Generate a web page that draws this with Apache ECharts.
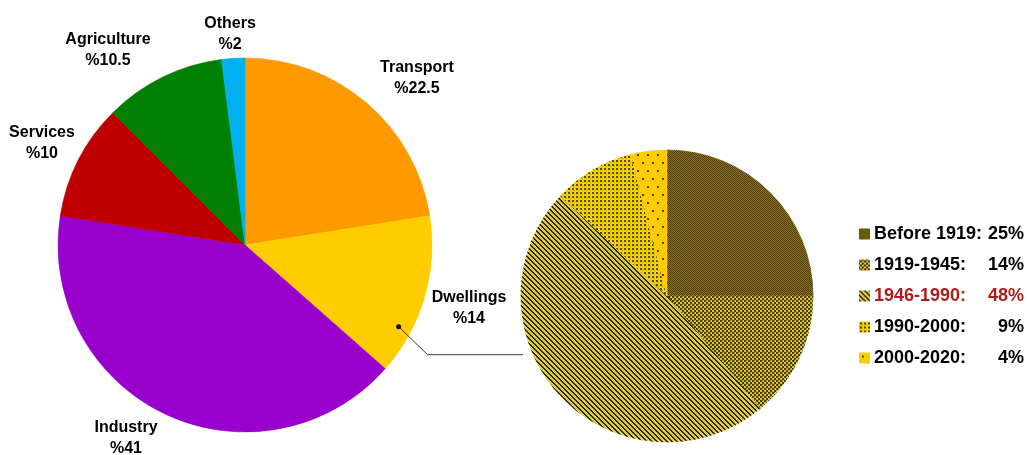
<!DOCTYPE html>
<html>
<head>
<meta charset="utf-8">
<script src="https://cdn.jsdelivr.net/npm/echarts@6/dist/echarts.min.js"></script>
<style>
  html, body { margin: 0; padding: 0; background: #fff; }
  #chart { width: 1027px; height: 455px; }
</style>
</head>
<body>
<div id="chart"></div>
<script>
// Energy consumption by sector (%)
const sectorNames = ['Transport', 'Dwellings', 'Industry', 'Services', 'Agriculture', 'Others'];
const sectorValues = [22.5, 14, 41, 10, 10.5, 2];
const sectorColors = ['#ff9900', '#ffcc00', '#9900cc', '#c00000', '#008000', '#00b0f0'];

// Dwellings split by construction period (%)
const periodNames = ['Before 1919', '1919-1945', '1946-1990', '1990-2000', '2000-2020'];
const periodValues = [25, 14, 48, 9, 4];
const highlightPeriod = '1946-1990';

// ---- layout ----
const mainCenter = [245, 245];
const mainRadius = 187;
const subCenter = [667, 296];
const subRadius = 146;
const FONT = '"Liberation Sans", Arial, sans-serif';

// label block centres, relative to the main pie centre
const labelOffsets = {
  'Transport':   [172, -167],
  'Dwellings':   [224, 63],
  'Industry':    [-119, 193],
  'Services':    [-203, -102],
  'Agriculture': [-137, -195],
  'Others':      [-15, -211]
};

// ---- fill patterns for the breakdown pie ----
function makePattern(w, h, bg, paint) {
  const c = document.createElement('canvas');
  c.width = w; c.height = h;
  const g = c.getContext('2d');
  g.fillStyle = bg; g.fillRect(0, 0, w, h);
  paint(g);
  return { image: c, repeat: 'repeat' };
}
const patterns = [
  // fine dark checker
  makePattern(2, 2, '#8a7408', g => { g.fillStyle = '#4e3f00'; g.fillRect(0, 0, 1, 1); g.fillRect(1, 1, 1, 1); }),
  // coarse checker
  makePattern(4, 4, '#d9c53a', g => { g.fillStyle = '#4a3c00'; g.fillRect(0, 0, 2, 2); g.fillRect(2, 2, 2, 2); g.fillStyle = '#9c8a20'; g.fillRect(2, 0, 1, 1); }),
  // diagonal stripes
  makePattern(5, 5, '#dccd42', g => {
    g.fillStyle = '#2e2600';
    for (let y = 0; y < 5; y++) for (let x = 0; x < 5; x++) {
      if (((x - y) % 5 + 5) % 5 < 2) g.fillRect(x, y, 1, 1);
    }
  }),
  // dense dots on yellow
  makePattern(4, 4, '#f2d400', g => { g.fillStyle = '#5a4600'; g.fillRect(0, 0, 2, 2); g.fillStyle = '#b89c00'; g.fillRect(2, 2, 1, 1); }),
  // sparse dots on yellow
  makePattern(10, 16, '#ffcc00', g => { g.fillStyle = '#5a3c00'; g.fillRect(2, 2, 2, 2); g.fillRect(7, 10, 2, 2); })
];

// connector from the Dwellings slice to the breakdown pie
const anchorAngle = 118 * Math.PI / 180;
const anchorRadius = 174;
const anchor = [mainCenter[0] + anchorRadius * Math.sin(anchorAngle),
                mainCenter[1] - anchorRadius * Math.cos(anchorAngle)];
const elbow = [anchor[0] + 29, anchor[1] + 28];
const lineEnd = [subCenter[0] - subRadius + 2, elbow[1]];

const chart = echarts.init(document.getElementById('chart'), null, { renderer: 'canvas' });

const legendRich = (color, width, align) => ({
  width: width, align: align, fontFamily: FONT, fontSize: 18, fontWeight: 'bold', color: color, lineHeight: 20
});

chart.setOption({
  animation: false,
  backgroundColor: '#fff',
  legend: {
    data: periodNames,
    orient: 'vertical',
    left: 859,
    top: 225,
    padding: 0,
    icon: 'rect',
    itemWidth: 9,
    itemHeight: 9,
    itemGap: 13,
    selectedMode: false,
    formatter: name => {
      const v = periodValues[periodNames.indexOf(name)];
      const hi = name === highlightPeriod;
      return '{' + (hi ? 'nr' : 'n') + '|' + name + ':}{' + (hi ? 'vr' : 'v') + '|' + v + '%}';
    },
    textStyle: {
      fontFamily: FONT, fontSize: 18, fontWeight: 'bold', color: '#000',
      rich: {
        n:  legendRich('#000', 113, 'left'),
        v:  legendRich('#000', 37, 'right'),
        nr: legendRich('#b01c1c', 113, 'left'),
        vr: legendRich('#b01c1c', 37, 'right')
      }
    }
  },
  graphic: [
    {
      type: 'polyline',
      z: 10,
      shape: { points: [anchor, elbow, lineEnd] },
      style: { stroke: '#3a3a3a', lineWidth: 1, fill: null }
    },
    {
      type: 'circle',
      z: 11,
      shape: { cx: anchor[0], cy: anchor[1], r: 2.5 },
      style: { fill: '#111' }
    }
  ],
  series: [
    {
      name: 'Sectors',
      type: 'pie',
      center: mainCenter,
      radius: mainRadius,
      startAngle: 90,
      clockwise: true,
      silent: true,
      data: sectorNames.map((n, i) => ({
        name: n, value: sectorValues[i],
        itemStyle: { color: sectorColors[i], borderColor: sectorColors[i], borderWidth: 0.6 }
      })),
      label: {
        show: true,
        position: 'outside',
        formatter: p => p.name + '\n%' + p.value,
        fontFamily: FONT,
        fontSize: 16,
        fontWeight: 'bold',
        lineHeight: 21,
        color: '#000',
        align: 'center'
      },
      labelLine: { show: false, length: 0, length2: 0 },
      labelLayout: params => {
        const off = labelOffsets[sectorNames[params.dataIndex]];
        return {
          x: mainCenter[0] + off[0],
          y: mainCenter[1] + off[1],
          align: 'center',
          verticalAlign: 'middle'
        };
      }
    },
    {
      name: 'Dwellings by period',
      type: 'pie',
      center: subCenter,
      radius: subRadius,
      startAngle: 90,
      clockwise: true,
      silent: true,
      data: periodNames.map((n, i) => ({
        name: n, value: periodValues[i],
        itemStyle: { color: patterns[i], borderColor: patterns[i], borderWidth: 0.8 }
      })),
      label: { show: false },
      labelLine: { show: false }
    }
  ]
});
</script>
</body>
</html>
